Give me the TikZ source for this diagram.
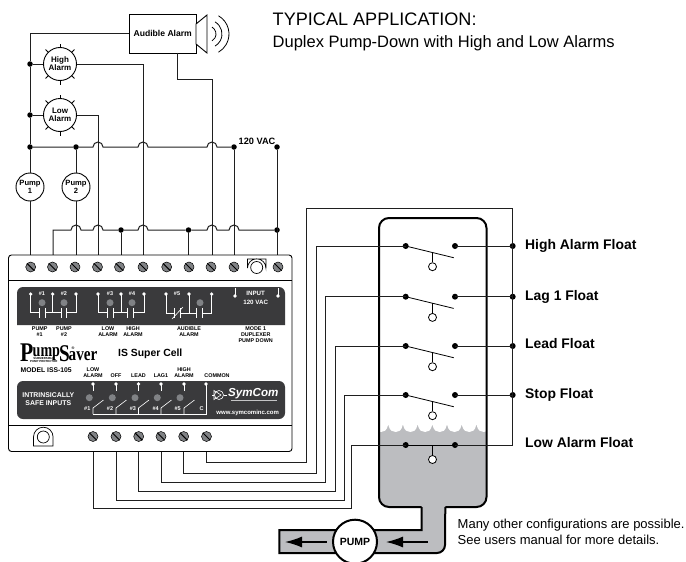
\documentclass[tikz,border=0pt]{standalone}
\usepackage{fontspec}
\setmainfont{Liberation Sans}
\usetikzlibrary{arrows.meta,calc}
\definecolor{panel}{HTML}{3A3A3C}
\definecolor{water}{HTML}{BCBDC0}
\definecolor{led}{HTML}{808285}
\definecolor{screwc}{HTML}{808285}
\tikzset{
 wire/.style={line width=1pt,black!88},
 junction/.style={circle,fill=black,inner sep=0pt,minimum size=6pt},
 smalljunction/.style={junction,minimum size=5.5pt},
 pumpc/.style={circle,draw,line width=0.9pt,minimum size=28pt,inner sep=0pt,align=center,font=\fontsize{7.6}{7.6}\selectfont\bfseries},
 alarmc/.style={circle,draw,line width=0.9pt,minimum size=33pt,inner sep=0pt,align=center,font=\fontsize{8}{8}\selectfont\bfseries},
 wlabel/.style={text=white,inner sep=0pt,align=center,font=\fontsize{5.5}{5.8}\selectfont\bfseries},
 inlabel/.style={text=white,inner sep=0pt,font=\fontsize{6.2}{6.6}\selectfont\bfseries},
 blabel/.style={text=black,inner sep=0pt,align=center,font=\fontsize{5.4}{5.9}\selectfont\bfseries},
 floatlabel/.style={anchor=base west,inner sep=0pt,font=\fontsize{13.9}{14}\selectfont\bfseries},
 notelabel/.style={anchor=base west,inner sep=0pt,font=\fontsize{13}{14}\selectfont},
 wdot/.style={circle,fill=white,inner sep=0pt,minimum size=3.6pt},
 ledc/.style={circle,fill=led,inner sep=0pt,minimum size=7pt},
 wline/.style={white,line width=0.6pt},
 ring/.style={circle,draw,fill=white,line width=0.8pt,inner sep=0pt,minimum size=8pt},
 logofont/.style={anchor=base west,inner sep=0pt,font={\fontspec{Liberation Serif}\fontsize{#1}{#1}\selectfont\bfseries}},
}
\newcommand\screwat[2]{\fill[screwc,draw=black,line width=0.5pt] (#1,#2) circle[radius=5];
 \draw[black,line width=1pt] (#1-3.6,#2-3.6) -- (#1+3.6,#2+3.6);}
\newcommand\bumpA[2]{-- (#1-5,#2) arc[start angle=180,end angle=360,radius=5]}
\begin{document}
\begin{tikzpicture}[x=1pt,y=-1pt]
\useasboundingbox (0,0) rectangle (686,562);
% titles
\node[anchor=base west,inner sep=0pt,font=\fontsize{18.1}{19}\selectfont] (title) at (272.5,25) {TYPICAL APPLICATION:};
\node[anchor=base west,inner sep=0pt,font=\fontsize{16.5}{17}\selectfont] (sub) at (272.5,47.7) {Duplex Pump-Down with High and Low Alarms};
% device top terminals
\foreach \n/\x in {1/30,2/53,3/76,4/98,5/121,6/143,7/166.5,8/188.5,9/212,10/234,11/277}{\coordinate (t\n) at (\x,255);}
% audible alarm
\node[draw,line width=0.9pt,minimum width=66.5pt,minimum height=38.5pt,inner sep=0pt,font=\fontsize{8.6}{9}\selectfont\bfseries] (aud) at (162.75,33.75) {Audible Alarm};
\draw[line width=0.9pt,fill=white] (196,24) -- (207,15) -- (207,53) -- (196,44) -- cycle;
\foreach \r in {8,14,21}{\draw[line width=0.8pt] ($(208,34)+({-60}:\r)$) arc[start angle=-60,end angle=60,radius=\r];}
% alarms and pumps
\node[alarmc] (ha) at (60,64) {High\\Alarm};
\node[alarmc] (la) at (60,115) {Low\\Alarm};
\foreach \c in {ha,la}{\foreach \a in {45,90,135,225,270,315}{
 \draw[line width=0.8pt] ($(\c)+(\a:16.5)$) -- ($(\c)+(\a:20.5)$);}}
\node[pumpc] (p1) at (30,187) {Pump\\1};
\node[pumpc] (p2) at (76,187) {Pump\\2};
% junctions
\coordinate (r0) at (30,33.75);
\coordinate (auds) at (177,52.9);
\node[smalljunction] (j1) at (30,64) {};
\node[smalljunction] (j2) at (30,115) {};
\node[smalljunction] (j3) at (30,147) {};
\node[smalljunction] (j4) at (76,147) {};
\node[smalljunction] (j5) at (234,147) {};
\node[smalljunction] (j6) at (277,147) {};
\node[smalljunction] (j7) at (121,230) {};
\node[smalljunction] (j8) at (188.5,230) {};
\node[smalljunction] (j9) at (277,230) {};
\node[anchor=base,inner sep=0pt,font=\fontsize{9.2}{10}\selectfont\bfseries] (vac) at (257,144.3) {120 VAC};
% wires
\draw[wire] (aud.west) -- (r0) -- (j1) -- (j2) -- (j3) -- (p1.north);
\draw[wire] (p1.south) -- (t1);
\draw[wire] (j1) -- (ha.west);
\draw[wire] (j2) -- (la.west);
\draw[wire] (ha.east) -| (t6);
\draw[wire] (la.east) -| (t4);
\draw[wire] (auds) -- (177,79) -- (212,79) -- (t9);
\draw[wire] (j3) -- (j4) \bumpA{98}{147} \bumpA{143}{147} \bumpA{212}{147} -- (j5);
\draw[wire] (j4) -- (p2.north);
\draw[wire] (p2.south) -- (t3);
\draw[wire] (j5) -- (t10);
\draw[wire] (j6) -- (t11);
\draw[wire] (t2) -- (53,230) \bumpA{76}{230} \bumpA{98}{230} -- (j7) \bumpA{143}{230} -- (j8) \bumpA{212}{230} \bumpA{234}{230} -- (j9);
\draw[wire] (j7) -- (t5);
\draw[wire] (j8) -- (t8);
% device
\node[draw,line width=0.9pt,rounded corners=3pt,minimum width=283.5pt,minimum height=196.5pt,inner sep=0pt,fill=white] (dev) at (150.25,353.25) {};
\draw[line width=0.7pt] (dev.west |- 0,280) -- (dev.east |- 0,280);
\draw[line width=0.7pt] (dev.west |- 0,425) -- (dev.east |- 0,425);
% screws top
\foreach \x in {30.7,52.5,75,97.5,119.5,143,166.7,189,211,234,278}{\screwat{\x}{267}}
\draw[line width=0.7pt] (247.5,259) -- (247.5,268) arc[start angle=180,end angle=360,radius=9.2] -- (266,259) -- cycle;
\draw[line width=0.7pt] (256.7,267.5) circle[radius=6];
% panels
\fill[panel,rounded corners=6pt] (17,325) [sharp corners] -- (17,300) [rounded corners=6pt] -- (17,287) -- (285,287) -- (285,300) [sharp corners] -- (285,325) -- cycle;
\fill[panel,rounded corners=6pt] (17,381) -- (285,381) -- (285,419) -- (17,419) -- cycle;
% upper panel
\foreach \x in {30.7,52.7,76,98,121,144,166,189,211.7}{\node[wdot] at (\x,294) {};}
\foreach \x/\t in {42/1,64/2,110/3,132/4,177/5}{\node[wlabel] (lab\t) at (\x,294) {\#\t};}
\foreach \x in {42,64,110,132,200}{\node[ledc] at (\x,302.7) {};}
\newcommand\contact[1]{\draw[wline] (#1-2.8,308) -- (#1-2.8,318) (#1+2.8,308) -- (#1+2.8,318);}
\draw[wline] (30.7,294) -- (30.7,312) -- (39.2,312) (44.8,312) -- (61,312) (66.6,312) -- (76,312) -- (76,294) (52.7,294) -- (52.7,312);
\contact{42}\contact{63.8}
\draw[wline] (98,294) -- (98,312) -- (107.2,312) (112.8,312) -- (127.7,312) (133.3,312) -- (144,312) -- (144,294) (121,294) -- (121,312);
\contact{110}\contact{130.5}
\draw[wline] (166,294) -- (166,313) -- (174,313) (180,313) -- (196,313) (202,313) -- (211.7,313) -- (211.7,294) (189,294) -- (189,313);
\contact{177}\contact{199}
\draw[wline] (172,319) -- (183,307);
\node[wdot] (in1) at (235,296) {};
\node[wdot] (in2) at (278,296) {};
\draw[wline] (in1.center) -- +(0,-8);
\draw[wline] (in2.center) -- +(0,-8);
\node[inlabel] (inp) at (255.7,293.5) {INPUT};
\node[inlabel] (inv) at (255.7,302) {120 VAC};
% labels under
\node[blabel] at (39.7,332) {PUMP\\\#1};
\node[blabel] at (64,332) {PUMP\\\#2};
\node[blabel] at (108,332) {LOW\\ALARM};
\node[blabel] at (133,332) {HIGH\\ALARM};
\node[blabel] at (189,332) {AUDIBLE\\ALARM};
\node[blabel] at (255.7,334.5) {MODE 1\\DUPLEXER\\PUMP DOWN};
% logo
\node[logofont=27] (logoP) at (20,361) {\scalebox{0.8}[1]{P}};
\node[logofont=19] (logoU) at (32.5,356) {\scalebox{0.74}[1]{ump}};
\node[logofont=24] (logoS) at (59,361) {\scalebox{0.8}[1]{S}};
\node[logofont=19] (logoA) at (68.5,360) {\scalebox{0.8}[1]{aver}};
\node[inner sep=0pt,font=\fontsize{3.8}{4}\selectfont\bfseries] (logoR) at (73,348) {®};
\node[anchor=north west,inner sep=0pt,align=center,font=\fontsize{2.9}{3.2}\selectfont\bfseries] (logoT) at (30,357) {SUBMERSIBLE\\PUMP PROTECTOR};
\node[anchor=base west,inner sep=0pt,font=\fontsize{6.8}{7}\selectfont\bfseries] (model) at (20.5,372) {MODEL ISS-105};
\node[anchor=base west,inner sep=0pt,font=\fontsize{10.4}{11}\selectfont\bfseries] (cell) at (118,356) {IS Super Cell};
% lower labels
\node[blabel] at (93,373) {LOW\\ALARM};
\node[blabel] at (116,376) {OFF};
\node[blabel] at (138.5,376) {LEAD};
\node[blabel] at (161,376) {LAG1};
\node[blabel] at (184,373) {HIGH\\ALARM};
\node[blabel] at (217,376) {COMMON};
% lower panel
\node[text=white,inner sep=0pt,align=center,font=\fontsize{6.9}{7.4}\selectfont\bfseries] (isi) at (48.3,399) {INTRINSICALLY\\SAFE INPUTS};
\foreach \n/\x/\lx/\nx in {1/93/89.3/87.3,2/116/112.3/110,3/138.5/135/133,4/161/157.3/155.7,5/184/180/177.7}{
 \node[wdot] (s\n) at (\x,384) {};
 \draw[wline] (s\n.center) -- +(0,6.5);
 \node[ledc] at (\lx,397.7) {};
 \node[wlabel] at (\nx,409) {\#\n};
 \draw[wline] (\x,414) -- (\x,408) -- (\x+10.5,400);
}
\node[wdot] (sc) at (206,384) {};
\draw[wline] (sc.center) -- (206,414) -- (93,414);
\node[wlabel] at (201.7,409) {C};
% symcom
\draw[wline] (214,390.5) -- (214,399.5) -- (221,395) -- cycle;
\draw[wline] (219,395) circle[radius=4.5];
\draw[wline] (212,395) -- (214,395) (223.5,395) -- (227,395);
\node[anchor=west,inner sep=0pt,text=white,font=\fontsize{11.6}{12}\selectfont\bfseries\itshape] (sym) at (228,393.5) {SymCom};
\draw[white!70!panel,line width=0.5pt] (231,400) -- (277,400);
\node[text=white,inner sep=0pt,font=\fontsize{6}{6.5}\selectfont\bfseries] (www) at (247.7,413) {www.symcominc.com};
% bottom
\foreach \n/\x in {1/93,2/116,3/138.7,4/161,5/183.7,6/206.5}{\screwat{\x}{436.5}\coordinate (b\n) at (\x,451.5);}
\draw[line width=0.7pt] (33.5,446) -- (33.5,437) arc[start angle=180,end angle=360,radius=9.8] -- (53,446) -- cycle;
\draw[line width=0.7pt] (43.3,437) circle[radius=6];
% tank
\draw[fill=water,draw=none] (379,430) -- (379,497) arc[start angle=180,end angle=90,radius=10] -- (421.7,507) -- (421.7,530) -- (279.3,530) -- (279.3,553) -- (437,553) arc[start angle=90,end angle=0,radius=8] -- (445.3,507) -- (476.5,507) arc[start angle=90,end angle=0,radius=10] -- (486.5,425) -- (379,425) -- cycle;
\foreach \x in {0,...,7}{
 \fill[white] (373.5+14.7*\x,424.5) .. controls (375+14.7*\x,431) and (378+14.7*\x,432) .. (381+14.7*\x,432) .. controls (384+14.7*\x,432) and (386.7+14.7*\x,431) .. (388.2+14.7*\x,424.5) -- cycle;}
\fill[white] (374,420) rectangle (492,425);
\fill[white] (374,420) rectangle (378,436);
\fill[white] (487.5,420) rectangle (492,436);
\draw[line width=2pt,rounded corners=10pt] (421.7,507) -- (379,507) -- (379,218) -- (486.5,218) -- (486.5,507) -- (445.3,507);
\draw[line width=2pt] (421.7,507) -- (421.7,530) -- (279.3,530) -- (279.3,553) -- (437,553) arc[start angle=90,end angle=0,radius=8] -- (445.3,507);
\node[circle,draw,fill=white,line width=2pt,minimum size=44pt,inner sep=0pt,font=\fontsize{10.5}{11}\selectfont\bfseries] (pump) at (355,541.7) {PUMP};
\coordinate (a1) at (285,542); \coordinate (a2) at (326.7,542);
\coordinate (a3) at (386,542); \coordinate (a4) at (427.7,542);
\draw[line width=1.4pt,-{Latex[length=17pt,width=11pt]}] (a2) -- (a1);
\draw[line width=1.4pt,-{Latex[length=17pt,width=11pt]}] (a4) -- (a3);
% floats
\foreach \n/\y/\by/\t in {1/246/249.3/High Alarm Float,2/296.7/300/Lag 1 Float,3/346/348/Lead Float,4/395/398/Stop Float,5/445/447/Low Alarm Float}{
 \node[junction] (fl\n) at (405.7,\y) {};
 \node[junction] (fr\n) at (455,\y) {};
 \node[floatlabel] (fn\n) at (525,\by) {\t};
}
\foreach \n/\y in {1/246,2/296.7,3/346,4/395}{
  \draw[line width=0.8pt] (fl\n.center) -- (453.7,\y+11.7);
  \node[ring] (fb\n) at (432.5,\y+20.7) {};
  \draw[line width=0.8pt] (432.5,\y+6.2) -- (fb\n.north);
  \node[junction] (rd\n) at (512.7,\y) {};
  \draw[wire] (fr\n.center) -- (rd\n.center);
}
\draw[line width=0.8pt] (fl5.center) -- (fr5.center);
\node[ring] (fb5) at (432.5,459.5) {};
\draw[line width=0.8pt] (432.5,445) -- (fb5.north);
\draw[wire] (fr5.center) -- (512.7,445) -- (rd4.center) -- (rd3.center) -- (rd2.center) -- (rd1.center) -- (512.7,208) -- (306.7,208) -- (306.7,462.3) -- (206.5,462.3) -- (b6);
\draw[wire] (fl1.center) -- (316.7,246) -- (316.7,473.3) -- (183.7,473.3) -- (b5);
\draw[wire] (fl2.center) -- (325.7,296.7) -- (325.7,482.3) -- (161,482.3) -- (b4);
\draw[wire] (fl3.center) -- (335,346) -- (335,491.7) -- (138.7,491.7) -- (b3);
\draw[wire] (fl4.center) -- (344,395) -- (344,500) -- (116,500) -- (b2);
\draw[wire] (fl5.center) -- (351.7,445) -- (351.7,508.3) -- (93,508.3) -- (b1);
% note
\node[notelabel] (note1) at (457.5,528) {Many other configurations are possible.};
\node[notelabel] (note2) at (457.5,544) {See users manual for more details.};
\end{tikzpicture}
\end{document}
